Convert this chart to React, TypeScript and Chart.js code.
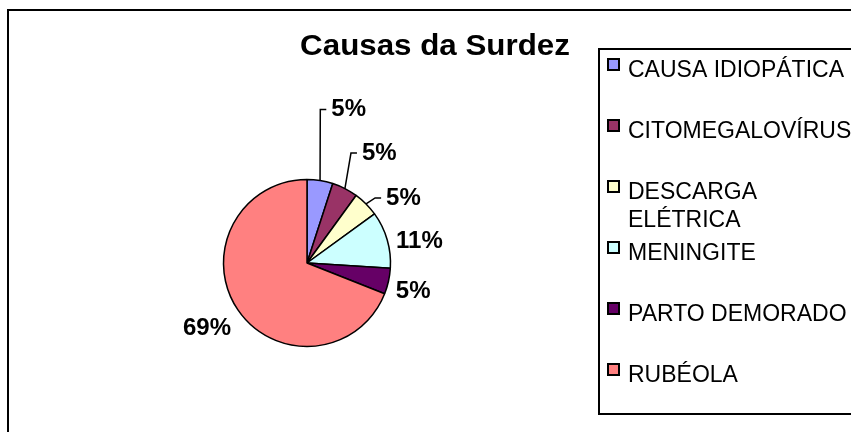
import React, { useEffect, useRef } from 'react';
import { Chart, registerables, layouts } from 'chart.js';

Chart.register(...registerables);

// ---- data ----
const TITLE = 'Causas da Surdez';
const CATEGORIES = [
  'CAUSA IDIOPÁTICA',
  'CITOMEGALOVÍRUS',
  'DESCARGA ELÉTRICA',
  'MENINGITE',
  'PARTO DEMORADO',
  'RUBÉOLA',
];
const VALUES = [5, 5, 5, 11, 5, 69];
const COLORS = ['#9999FF', '#993366', '#FFFFCC', '#CCFFFF', '#660066', '#FF8080'];

// ---- layout / style ----
const FONT = '"Liberation Sans", Arial, Helvetica, sans-serif';
const CANVAS_W = 856;
const CANVAS_H = 460;
const LEGEND_W = 256;
const TITLE_STRETCH = 1.08;
// per label: [radial distance as factor of radius, vertical nudge px]
const LABEL_POS: [number, number][] = [
  [1.86, 0],
  [1.45, -2],
  [1.34, 14],
  [1.11, 4],
  [1.09, 9],
  [1.1, 14],
];

function wrapText(ctx: CanvasRenderingContext2D, text: string, maxW: number): string[] {
  const words = text.split(' ');
  const lines: string[] = [];
  let cur = '';
  for (const w of words) {
    const t = cur ? cur + ' ' + w : w;
    if (cur && ctx.measureText(t).width > maxW) {
      lines.push(cur);
      cur = w;
    } else cur = t;
  }
  if (cur) lines.push(cur);
  return lines;
}

function drawLegend(chart: any, box: any) {
  const ctx: CanvasRenderingContext2D = chart.ctx;
  const labels = chart.data.labels as string[];
  const colors = chart.data.datasets[0].backgroundColor as string[];
  ctx.save();
  ctx.strokeStyle = '#000';
  ctx.lineWidth = 2;
  ctx.strokeRect(box.left - 8, 41, chart.width, 365);
  ctx.font = `23px ${FONT}`;
  ctx.textAlign = 'left';
  ctx.textBaseline = 'alphabetic';
  labels.forEach((lab, i) => {
    const base = 69 + i * 61;
    ctx.fillStyle = colors[i];
    ctx.fillRect(box.left + 1, base - 18, 11, 11);
    ctx.strokeRect(box.left + 1, base - 18, 11, 11);
    ctx.fillStyle = '#000';
    const lines = wrapText(ctx, lab, 232);
    lines.forEach((ln, j) => ctx.fillText(ln, box.left + 21, base + j * 27.6));
  });
  ctx.restore();
}

const customLegendPlugin = {
  id: 'customLegend',
  beforeInit(chart: any) {
    const box: any = {
      position: 'right',
      weight: 1000,
      fullSize: true,
      options: { display: true },
      top: 0,
      left: 0,
      right: 0,
      bottom: 0,
      width: 0,
      height: 0,
      isHorizontal() {
        return false;
      },
      update(_maxW: number, maxH: number) {
        box.width = LEGEND_W;
        box.height = maxH;
      },
      draw() {},
      _layers() {
        return [{ z: 1, draw: () => drawLegend(chart, box) }];
      },
    };
    layouts.addBox(chart, box);
  },
};

const titleStretchPlugin = {
  id: 'titleStretch',
  beforeDraw(chart: any) {
    const ctx = chart.ctx;
    const cx = chart.width / 2;
    ctx.save();
    ctx.translate(cx, 0);
    ctx.scale(TITLE_STRETCH, 1);
    ctx.translate(-cx, 0);
  },
  beforeDatasetsDraw(chart: any) {
    chart.ctx.restore();
  },
};

const pieLabelsPlugin = {
  id: 'pieLabels',
  afterDatasetsDraw(chart: any) {
    const ctx: CanvasRenderingContext2D = chart.ctx;
    const meta = chart.getDatasetMeta(0);
    const data = chart.data.datasets[0].data as number[];
    const total = data.reduce((a, b) => a + b, 0);
    ctx.save();
    ctx.font = `bold 24px ${FONT}`;
    ctx.fillStyle = '#000';
    ctx.strokeStyle = '#000';
    ctx.lineWidth = 1.5;
    ctx.textBaseline = 'middle';
    meta.data.forEach((arc: any, i: number) => {
      const { x, y, startAngle, endAngle, outerRadius } = arc.getProps(
        ['x', 'y', 'startAngle', 'endAngle', 'outerRadius'],
        true
      );
      const mid = (startAngle + endAngle) / 2;
      const dx = Math.cos(mid);
      const dy = Math.sin(mid);
      const [f, nudge] = LABEL_POS[i];
      const ax = x + dx * outerRadius * f;
      const ay = y + dy * outerRadius * f + nudge;
      const text = Math.round((data[i] / total) * 100) + '%';
      ctx.textAlign = dx >= 0 ? 'left' : 'right';
      ctx.fillText(text, ax, ay);
      if (f > 1.2) {
        ctx.beginPath();
        ctx.moveTo(x + dx * outerRadius, y + dy * outerRadius);
        ctx.lineTo(ax - 11, ay);
        ctx.lineTo(ax - 5, ay);
        ctx.stroke();
      }
    });
    ctx.restore();
  },
};

const framePlugin = {
  id: 'outerFrame',
  afterDraw(chart: any) {
    const ctx: CanvasRenderingContext2D = chart.ctx;
    ctx.save();
    ctx.strokeStyle = '#000';
    ctx.lineWidth = 2;
    ctx.strokeRect(1, 2, chart.width + 20, chart.height + 20);
    ctx.restore();
  },
};

export default function App() {
  const ref = useRef<HTMLCanvasElement>(null);
  useEffect(() => {
    if (!ref.current) return;
    const chart = new Chart(ref.current, {
      type: 'pie',
      data: {
        labels: CATEGORIES,
        datasets: [
          {
            data: VALUES,
            backgroundColor: COLORS,
            borderColor: '#000',
            borderWidth: 1.5,
            radius: 83.5,
          } as any,
        ],
      },
      options: {
        responsive: false,
        animation: false,
        events: [],
        layout: { padding: { top: 0, left: 0, right: 0, bottom: 6.6 } },
        plugins: {
          legend: { display: false },
          tooltip: { enabled: false },
          title: {
            display: true,
            text: TITLE,
            color: '#000',
            font: { family: FONT, size: 29, weight: 'bold', lineHeight: 1.2 },
            padding: { top: 21.8, bottom: 0 },
          },
        },
      } as any,
      plugins: [customLegendPlugin, titleStretchPlugin, pieLabelsPlugin, framePlugin],
    });
    return () => chart.destroy();
  }, []);
  return (
    <div
      style={{
        position: 'absolute',
        left: 7,
        top: 8,
        width: 844,
        height: 424,
        overflow: 'hidden',
        background: '#fff',
      }}
    >
      <canvas
        ref={ref}
        width={CANVAS_W}
        height={CANVAS_H}
        style={{ display: 'block', width: CANVAS_W, height: CANVAS_H }}
      />
    </div>
  );
}
